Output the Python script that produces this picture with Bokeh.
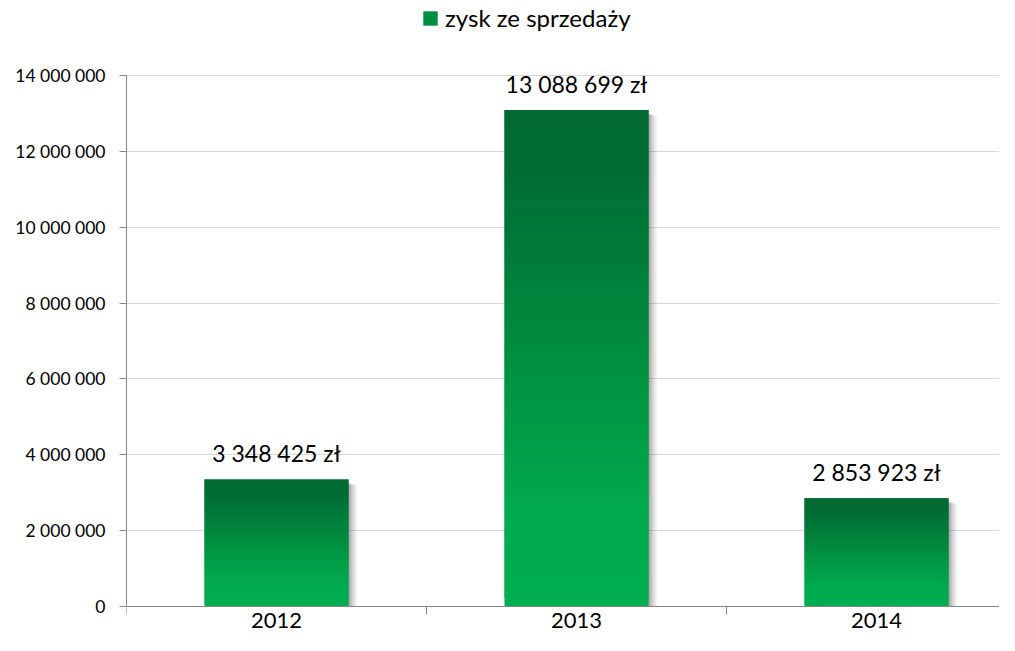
from bokeh.plotting import figure
from bokeh.models import (ColumnDataSource, FixedTicker, LinearAxis, Legend, LegendItem,
                          CustomJSTickFormatter, Range1d)
from bokeh.embed import file_html
from bokeh.resources import INLINE
from bokeh.core.properties import value

# ---- data ----
years = ["2012", "2013", "2014"]
profit = [3348425, 13088699, 2853923]
series_name = "zysk ze sprzedaży"
y_ticks = [0, 2000000, 4000000, 6000000, 8000000, 10000000, 12000000, 14000000]
y_top = 14000000

FONT = "Lato"
W, H = 999, 635
FL = 126            # left border (y axis area)
Y_TOP_PX = 75       # pixel row of y_top
Y_ZERO_PX = 606     # pixel row of 0
cat_px = 300.0      # pixel width of one category
frame_w = W - FL
x_end = frame_w / cat_px
upp = y_top / (Y_ZERO_PX - Y_TOP_PX)   # data units per pixel
y_start = -(H - Y_ZERO_PX) * upp
y_end = y_top + Y_TOP_PX * upp

p = figure(width=W, height=H, output_backend="svg", toolbar_location=None,
           x_range=Range1d(0, x_end), y_range=Range1d(y_start, y_end),
           min_border_left=FL, min_border_top=0, min_border_bottom=0, min_border_right=0,
           x_axis_location=None, y_axis_location=None)
p.outline_line_color = None
p.background_fill_color = "white"
p.border_fill_color = "white"
p.xgrid.visible = False
p.ygrid.ticker = FixedTicker(ticks=y_ticks)
p.ygrid.grid_line_color = "#D9D9D9"
p.ygrid.grid_line_width = 1

# ---- y axis ----
yax = LinearAxis(ticker=FixedTicker(ticks=y_ticks), bounds=(0, y_top))
yax.formatter = CustomJSTickFormatter(code="""
return Math.round(tick).toString().replace(/\\B(?=(\\d{3})+(?!\\d))/g, " ");
""")
yax.axis_line_color = "#868686"
yax.major_tick_line_color = "#868686"
yax.major_tick_out = 7
yax.major_tick_in = 0
yax.minor_tick_line_color = None
yax.major_label_standoff = 14
yax.major_label_text_font = FONT
yax.major_label_text_font_size = "17.5px"
yax.major_label_text_color = "#000000"
p.add_layout(yax, "left")

# ---- x axes at y = 0: boundary ticks + centered labels ----
xticks_ax = LinearAxis(ticker=FixedTicker(ticks=list(range(len(years) + 1))), fixed_location=0)
xticks_ax.axis_line_color = "#868686"
xticks_ax.major_tick_line_color = "#868686"
xticks_ax.major_tick_out = 8
xticks_ax.major_tick_in = 0
xticks_ax.minor_tick_line_color = None
xticks_ax.major_label_text_font_size = "0px"
xticks_ax.major_label_overrides = {i: "" for i in range(len(years) + 1)}
p.add_layout(xticks_ax, "below")

centers = [i + 0.5 for i in range(len(years))]
xlab_ax = LinearAxis(ticker=FixedTicker(ticks=centers), fixed_location=0)
xlab_ax.major_label_overrides = {c: y for c, y in zip(centers, years)}
xlab_ax.axis_line_color = None
xlab_ax.major_tick_line_color = None
xlab_ax.major_tick_out = 0
xlab_ax.major_tick_in = 0
xlab_ax.minor_tick_line_color = None
xlab_ax.major_label_standoff = 6
xlab_ax.major_label_text_font = FONT
xlab_ax.major_label_text_font_size = "22px"
xlab_ax.major_label_text_color = "#000000"
p.add_layout(xlab_ax, "below")

bar_w = 144 / cat_px

# ---- soft shadows (right side) ----
for k, a in [(1, 0.22), (3, 0.17), (5, 0.13), (7, 0.09), (9, 0.06)]:
    dx = k / cat_px
    p.vbar(x=[c + dx for c in centers], width=bar_w,
           top=[v - (3 + k * 0.3) * upp for v in profit], bottom=0,
           fill_color="#505050", fill_alpha=a, line_color=None)

# ---- gradient bars ----
stops = [(0.0, (0x00, 0xAE, 0x50)), (0.2, (0x00, 0xA9, 0x4E)), (0.45, (0x00, 0x94, 0x42)),
         (0.75, (0x00, 0x78, 0x38)), (0.88, (0x00, 0x6C, 0x34)), (1.0, (0x00, 0x6A, 0x33))]

def grad(t):
    for (t0, c0), (t1, c1) in zip(stops[:-1], stops[1:]):
        if t <= t1:
            f = (t - t0) / (t1 - t0)
            return "#%02x%02x%02x" % tuple(int(round(a + (b - a) * f)) for a, b in zip(c0, c1))
    return "#%02x%02x%02x" % stops[-1][1]

N = 60
xs, bots, tops, cols = [], [], [], []
for c, v in zip(centers, profit):
    for i in range(N):
        xs.append(c)
        bots.append(v * i / N)
        tops.append(min(v, v * (i + 2) / N))
        cols.append(grad((i + 0.5) / N))
src = ColumnDataSource(dict(x=xs, bottom=bots, top=tops, color=cols))
bars = p.vbar(x="x", bottom="bottom", top="top", width=bar_w, fill_color="color",
              line_color=None, source=src)

# ---- value labels ----
labels = [f"{v:,}".replace(",", " ") + " zł" for v in profit]
lsrc = ColumnDataSource(dict(x=centers, y=profit, text=labels))
p.text(x="x", y="y", text="text", source=lsrc, text_align="center",
       text_baseline="alphabetic", y_offset=-26, text_font=value(FONT),
       text_font_size="23px", text_color="#000000")

# ---- legend (top, centred over the plot) ----
leg = Legend(items=[LegendItem(label=series_name, renderers=[bars], index=N // 2)],
             location=(421 - FL, H - 10 - 22), orientation="horizontal")
leg.border_line_color = None
leg.background_fill_alpha = 0
leg.padding = 0
leg.margin = 0
leg.glyph_width = 18
leg.glyph_height = 18
leg.label_height = 22
leg.label_standoff = 6
leg.label_text_font = FONT
leg.label_text_font_size = "24px"
leg.label_text_color = "#000000"
p.add_layout(leg, "center")

open("out.html", "w").write(file_html(p, INLINE))
